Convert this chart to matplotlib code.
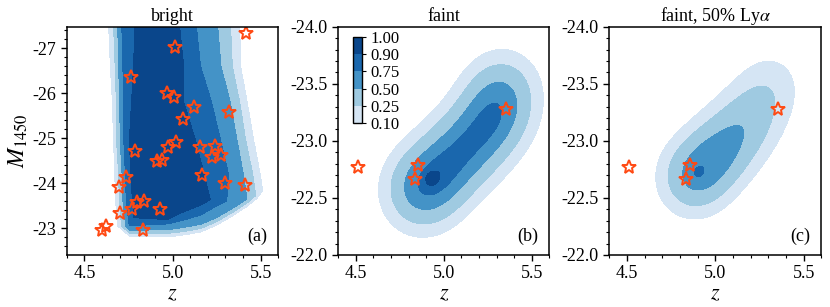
import numpy as np
import matplotlib.pyplot as plt
from matplotlib.ticker import MultipleLocator

plt.rcParams['font.family'] = ['Liberation Serif', 'DejaVu Serif']
plt.rcParams['mathtext.fontset'] = 'stix'
plt.rcParams['axes.unicode_minus'] = False
plt.rcParams['font.size'] = 13

# observed quasars (redshift, absolute magnitude)
bright_z = [5.419, 5.013, 4.767, 4.966, 5.010, 5.123, 5.321, 5.060, 5.019, 4.976,
            4.787, 5.155, 5.240, 5.225, 5.277, 4.913, 4.938, 5.168, 4.734, 4.696,
            5.300, 5.409, 4.800, 4.838, 4.772, 4.928, 4.702, 4.834, 4.602, 4.621]
bright_M = [-27.33, -27.02, -26.37, -26.00, -25.92, -25.69, -25.58, -25.44, -24.92, -24.81,
            -24.72, -24.81, -24.84, -24.58, -24.64, -24.50, -24.53, -24.18, -24.15, -23.91,
            -24.01, -23.96, -23.59, -23.61, -23.44, -23.44, -23.35, -22.96, -22.97, -23.06]
faint_z = [4.510, 4.855, 4.835, 5.355]
faint_M = [-22.77, -22.79, -22.67, -23.28]

levels = [0.1, 0.25, 0.5, 0.75, 0.9, 1.0]
level_colors = ['#d5e5f4', '#9fcae1', '#4493c7', '#1a67ad', '#0a468b']

# bright selection: z where the completeness crosses each level, per M row
sel_rows_M = [-27.6, -26.6, -25.8, -25.0, -24.2, -23.6, -23.05, -22.85, -22.6]
sel_left_z = [  # crossings of 0.1, 0.25, 0.5, 0.75, 0.9
    [4.636, 4.665, 4.689, 4.711, 4.788],
    [4.647, 4.675, 4.694, 4.718, 4.778],
    [4.659, 4.682, 4.701, 4.723, 4.767],
    [4.665, 4.682, 4.703, 4.723, 4.756],
    [4.672, 4.695, 4.714, 4.733, 4.762],
    [4.677, 4.698, 4.719, 4.737, 4.772],
    [4.690, 4.712, 4.735, 4.755, 4.785],
    [4.750, 4.770, 4.790, 4.810, 4.835],
    [4.820, 4.840, 4.860, 4.880, 4.900],
]
sel_right_z = [  # crossings of 0.9, 0.75, 0.5, 0.25, 0.1
    [5.037, 5.132, 5.254, 5.328, 5.381],
    [5.064, 5.159, 5.275, 5.339, 5.387],
    [5.064, 5.222, 5.328, 5.381, 5.424],
    [5.127, 5.270, 5.364, 5.413, 5.459],
    [5.180, 5.318, 5.402, 5.455, 5.498],
    [5.217, 5.307, 5.424, 5.477, 5.519],
    [5.217, 5.307, 5.424, 5.477, 5.519],
    [5.217, 5.307, 5.424, 5.477, 5.519],
    [5.217, 5.307, 5.424, 5.477, 5.519],
]
# faint end of the bright selection: M where completeness crosses each level, per z column
sel_cols_z = [4.60, 4.78, 4.97, 5.06, 5.16, 5.25, 5.35, 5.42, 5.48, 5.52, 5.60]
sel_bottom_M = [  # crossings of 0.1, 0.25, 0.5, 0.75, 0.9
    [-22.81, -22.89, -22.96, -23.06, -23.24],
    [-22.81, -22.89, -22.96, -23.06, -23.24],
    [-22.81, -22.89, -22.97, -23.10, -23.20],
    [-22.85, -22.93, -23.02, -23.18, -23.37],
    [-22.92, -23.00, -23.09, -23.30, -23.52],
    [-23.07, -23.15, -23.24, -23.50, -23.72],
    [-23.30, -23.38, -23.47, -23.70, -23.95],
    [-23.48, -23.56, -23.65, -23.85, -24.10],
    [-23.67, -23.76, -23.85, -24.00, -24.30],
    [-23.89, -23.98, -24.07, -24.20, -24.50],
    [-24.40, -24.50, -24.60, -24.70, -25.00],
]

# faint samples: density pieces (z, M, weight, z width, M width)
faint_kde_z = [4.865, 4.950, 5.060, 5.180, 5.288, 5.336, 4.928]
faint_kde_M = [-22.55, -22.68, -22.84, -23.02, -23.22, -23.45, -22.67]
faint_kde_w = [0.46, 0.354, 0.413, 0.413, 0.44, 0.34, 0.13]
faint_kde_sz = [0.13, 0.13, 0.13, 0.13, 0.13, 0.13, 0.026]
faint_kde_sM = [0.216, 0.216, 0.216, 0.216, 0.216, 0.216, 0.044]
faint_peak = 1.0

lya_kde_z = [4.870, 4.935, 5.036, 5.156, 5.252, 5.324, 4.898]
lya_kde_M = [-22.66, -22.77, -22.92, -23.12, -23.32, -23.52, -22.72]
lya_kde_w = [0.40, 0.26, 0.40, 0.30, 0.18, 0.12, 0.12]
lya_kde_sz = [0.12, 0.12, 0.12, 0.12, 0.12, 0.12, 0.03]
lya_kde_sM = [0.20, 0.20, 0.20, 0.20, 0.20, 0.20, 0.05]
lya_peak = 0.79


def selection_map(z, M):
    """completeness on a z-M grid from the level crossings read row / column wise"""
    lv = np.array(levels[:5])
    rows_M = np.array(sel_rows_M)
    left = np.array(sel_left_z)
    right = np.array(sel_right_z)
    by_row = np.zeros((len(M), len(z)))
    for i, m in enumerate(M):
        L = [np.interp(m, rows_M, left[:, k]) for k in range(5)]
        R = [np.interp(m, rows_M, right[:, k]) for k in range(5)]
        xp = [L[0] - 0.005] + L + [0.5 * (L[4] + R[0])] + R + [R[4] + 0.005]
        fp = [0] + list(lv) + [0.97] + list(lv[::-1]) + [0]
        by_row[i] = np.interp(z, xp, fp, left=0, right=0)

    cols_z = np.array(sel_cols_z)
    bottom = np.array(sel_bottom_M)
    by_col = np.zeros_like(by_row)
    for j, zv in enumerate(z):
        B = [np.interp(zv, cols_z, bottom[:, k]) for k in range(5)]
        xp = B[::-1] + [B[0] + 0.005]
        fp = list(lv[::-1]) + [0]
        by_col[:, j] = np.interp(M, xp, fp, left=1.0, right=0)
    return np.minimum(by_row, by_col)


def kde_map(zz, MM, cz, cM, w, sz, sM, peak):
    d = np.zeros_like(zz)
    for a, b, wi, sa, sb in zip(cz, cM, w, sz, sM):
        d += wi * np.exp(-0.5 * (((zz - a) / sa) ** 2 + ((MM - b) / sb) ** 2))
    return peak * d / d.max()


def style_axis(ax, ymajor, yminor):
    ax.set_xlim(4.4, 5.6)
    ax.xaxis.set_major_locator(MultipleLocator(0.5))
    ax.xaxis.set_minor_locator(MultipleLocator(0.1))
    ax.yaxis.set_major_locator(MultipleLocator(ymajor))
    ax.yaxis.set_minor_locator(MultipleLocator(yminor))
    ax.tick_params(which='major', length=4, width=1, labelsize=13)
    ax.tick_params(which='minor', length=2.2, width=0.8)
    for s in ax.spines.values():
        s.set_linewidth(1.1)
    ax.set_xlabel('$z$', fontsize=16, labelpad=2)


fig = plt.figure(figsize=(8.3, 3.07), dpi=100)
ax1 = fig.add_axes([0.0804, 0.1694, 0.2549, 0.7437])
ax2 = fig.add_axes([0.4076, 0.1694, 0.2542, 0.7437])
ax3 = fig.add_axes([0.7341, 0.1694, 0.2554, 0.7437])

# (a) bright
zg = np.linspace(4.4, 5.6, 600)
Mg = np.linspace(-27.6, -22.3, 600)
sel = selection_map(zg, Mg)
ax1.contourf(zg, Mg, sel, levels=levels, colors=level_colors)
ax1.plot(bright_z, bright_M, ls='none', marker='*', ms=10, mfc='none',
         mec='#ff4a14', mew=1.4)
ax1.set_ylim(-22.41, -27.48)
style_axis(ax1, 1, 0.2)
ax1.set_ylabel('$M_{1450}$', fontsize=17, labelpad=2)
ax1.set_title('bright', fontsize=13, pad=4)
ax1.text(0.95, 0.08, '(a)', transform=ax1.transAxes, ha='right', va='center')

# (b) faint and (c) faint with 50% Lya
zz, MM = np.meshgrid(np.linspace(4.4, 5.6, 500), np.linspace(-24.0, -22.0, 500))
faint = kde_map(zz, MM, faint_kde_z, faint_kde_M, faint_kde_w, faint_kde_sz, faint_kde_sM, faint_peak)
lya = kde_map(zz, MM, lya_kde_z, lya_kde_M, lya_kde_w, lya_kde_sz, lya_kde_sM, lya_peak)

cs = ax2.contourf(zz, MM, faint, levels=levels, colors=level_colors)
ax3.contourf(zz, MM, lya, levels=levels, colors=level_colors)
for ax, title, tag in [(ax2, 'faint', '(b)'), (ax3, r'faint, 50% Ly$\alpha$', '(c)')]:
    ax.plot(faint_z, faint_M, ls='none', marker='*', ms=10, mfc='none',
            mec='#ff4a14', mew=1.4)
    ax.set_ylim(-22.0, -24.0)
    style_axis(ax, 0.5, 0.1)
    ax.set_title(title, fontsize=13, pad=4)
    ax.text(0.95, 0.08, tag, transform=ax.transAxes, ha='right', va='center')

cax = ax2.inset_axes([0.068, 0.577, 0.043, 0.379])
cb = fig.colorbar(cs, cax=cax, spacing='uniform', ticks=levels, format='%.2f')
cb.ax.tick_params(labelsize=12, length=3, width=0.8)
cb.outline.set_linewidth(1)

fig.savefig('out.png', dpi=100)
